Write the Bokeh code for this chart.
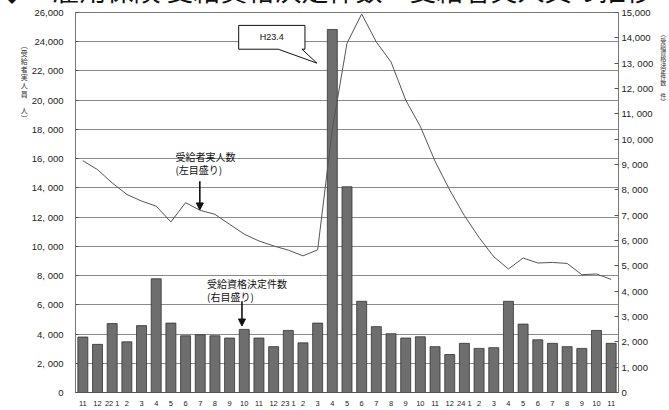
from bokeh.plotting import figure
from bokeh.models import Range1d, LinearAxis, FixedTicker, Label, Arrow, NormalHead
from bokeh.embed import file_html
from bokeh.resources import INLINE

# ---------------- data ----------------
months = ["11", "12", "22 1", "2", "3", "4", "5", "6", "7", "8", "9", "10", "11",
          "12", "23 1", "2", "3", "4", "5", "6", "7", "8", "9", "10", "11",
          "12", "24 1", "2", "3", "4", "5", "6", "7", "8", "9", "10", "11"]

# 受給資格決定件数 (right axis)
kensu = [2190, 1900, 2720, 2000, 2640, 4490, 2740, 2240, 2280, 2240,
         2150, 2490, 2150, 1810, 2450, 1960, 2740, 14330, 8120, 3600,
         2600, 2320, 2150, 2200, 1810, 1500, 1940, 1740, 1770, 3600,
         2700, 2080, 1940, 1810, 1740, 2450, 1940]

# 受給者実人員 (left axis)
jitsu = [15860, 15250, 14340, 13550, 13100, 12750, 11670, 12990, 12460, 12190,
         11510, 10830, 10370, 10030, 9740, 9350, 9760, 18000, 23900, 25900,
         23980, 22620, 20010, 18200, 15820, 13850, 12100, 10600, 9290, 8450,
         9200, 8860, 8900, 8830, 8060, 8110, 7740]

left_ticks = [0, 2000, 4000, 6000, 8000, 10000, 12000, 14000, 16000, 18000,
              20000, 22000, 24000, 26000]
left_tick_labels = ["0", "2, 000", "4, 000", "6, 000", "8, 000", "10, 000",
                    "12, 000", "14, 000", "16, 000", "18, 000", "20, 000",
                    "22, 000", "24,000", "26,000"]
right_ticks = [0, 1000, 2000, 3000, 4000, 5000, 6000, 7000, 8000, 9000,
               10000, 11000, 12000, 13000, 14000, 15000]
right_tick_labels = ["0", "1, 000", "2, 000", "3, 000", "4, 000", "5, 000",
                     "6, 000", "7, 000", "8, 000", "9, 000", "10, 000",
                     "11, 000", "12, 000", "13, 000", "14,000", "15,000"]

title_text = "◆　雇用保険 受給資格決定件数・受給者実人員の推移"
left_title = "︵受給者実人員　人︶"
right_title = "︵受給資格決定件数　件︶"

# ---------------- figure ----------------
cjk = "Noto Sans CJK JP"
x = list(range(1, len(months) + 1))
N = len(months)
W = 669
TOP_EXTRA = 48                 # canvas rows pushed above the page top
ML, MR, MT, MB = 75, 45, 12 + TOP_EXTRA, 15
H = 410 + TOP_EXTRA
YMAX_L = 26000
YMAX_R = 15000

p = figure(width=W, height=H, output_backend="svg", toolbar_location=None,
           x_range=Range1d(0.5, N + 0.5), y_range=Range1d(0, YMAX_L),
           min_border_left=ML, min_border_right=MR,
           min_border_top=MT, min_border_bottom=MB,
           styles={"margin-top": "-%dpx" % TOP_EXTRA})
p.extra_y_ranges = {"right": Range1d(0, YMAX_R)}
p.background_fill_color = "white"
p.border_fill_color = "white"
p.outline_line_color = "#777777"
p.outline_line_width = 1

# title (its top is cut off by the page edge, as in the reference)
p.title.text = title_text
p.title.text_font = cjk
p.title.text_font_size = "27px"
p.title.text_font_style = "normal"
p.title.text_color = "#111111"
p.title.align = "left"
p.title.offset = -ML - 2
p.title.standoff = 7

FW = W - ML - MR
FH = H - MT - MB
PT, PB = 12, 12 + FH           # frame top / bottom in page pixels


def dx(px):  # page x -> data x
    return 0.5 + (px - ML) / FW * N


def dy(py):  # page y -> left data y
    return (PB - py) / FH * YMAX_L


def stacked(s, pad):
    # upright vertical writing: one character per line, blank cells on top
    return "\n".join(["\u3000"] * pad + list(s))


# x axis
p.xaxis.ticker = FixedTicker(ticks=x)
p.xaxis.major_label_overrides = {i: m for i, m in zip(x, months)}
p.xaxis.major_label_text_font = "Liberation Sans"
p.xaxis.major_label_text_font_size = "7.5px"
p.xaxis.major_label_text_color = "#222222"
p.xaxis.major_label_standoff = 6
p.xaxis.major_tick_in = 0
p.xaxis.major_tick_out = 0
p.xaxis.minor_tick_line_color = None
p.xaxis.axis_line_color = "#555555"

# left axis
p.yaxis.ticker = FixedTicker(ticks=left_ticks)
p.yaxis.major_label_overrides = {t: s for t, s in zip(left_ticks, left_tick_labels)}
p.yaxis.major_label_text_font = "Liberation Sans"
p.yaxis.major_label_text_font_size = "9.5px"
p.yaxis.major_label_text_color = "#222222"
p.yaxis.major_label_standoff = 12
p.yaxis.major_tick_in = 3
p.yaxis.major_tick_out = 0
p.yaxis.major_tick_line_color = "#555555"
p.yaxis.minor_tick_line_color = None
p.yaxis.axis_line_color = None
p.yaxis.axis_label = stacked(left_title, 17)
p.yaxis.axis_label_orientation = "horizontal"
p.yaxis.axis_label_align = "end"
p.yaxis.axis_label_standoff = 1
p.yaxis.axis_label_text_font = cjk
p.yaxis.axis_label_text_font_size = "7px"
p.yaxis.axis_label_text_font_style = "normal"
p.yaxis.axis_label_text_line_height = 0.81
p.yaxis.axis_label_text_color = "#333333"

# right axis
ra = LinearAxis(y_range_name="right", ticker=FixedTicker(ticks=right_ticks))
ra.major_label_overrides = {t: s for t, s in zip(right_ticks, right_tick_labels)}
ra.major_label_text_font = "Liberation Sans"
ra.major_label_text_font_size = "9.5px"
ra.major_label_text_color = "#222222"
ra.major_label_standoff = 3
ra.major_tick_in = 4
ra.major_tick_out = 0
ra.major_tick_line_color = "#555555"
ra.minor_tick_line_color = None
ra.axis_line_color = None
ra.axis_label = stacked(right_title, 18)
ra.axis_label_orientation = "horizontal"
ra.axis_label_align = "end"
ra.axis_label_standoff = 4
ra.axis_label_text_font = cjk
ra.axis_label_text_font_size = "6px"
ra.axis_label_text_font_style = "normal"
ra.axis_label_text_line_height = 0.68
ra.axis_label_text_color = "#333333"
p.add_layout(ra, "right")

# grid
p.xgrid.visible = False
p.ygrid.ticker = FixedTicker(ticks=left_ticks)
p.ygrid.grid_line_color = "#8a8a8a"
p.ygrid.grid_line_width = 1

# bars and line
p.vbar(x=x, top=kensu, width=0.68, bottom=0, y_range_name="right",
       fill_color="#6e6e6e", line_color="#333333", line_width=0.8)
p.line(x=x, y=jitsu, line_color="#555555", line_width=1)

# callout H23.4
cx = [dx(240), dx(307), dx(307), dx(304), dx(319), dx(280), dx(240)]
cy = [dy(25), dy(25), dy(49), dy(49), dy(63), dy(49), dy(49)]
p.patch(cx, cy, fill_color="white", line_color="#111111", line_width=1)
p.add_layout(Label(x=dx(273.5), y=dy(37), text="H23.4", text_align="center",
                   text_baseline="middle", text_font="Liberation Sans",
                   text_font_size="9px", text_color="#111111"))

# series notes
p.add_layout(Label(x=dx(176), y=dy(157), text="受給者実人数", text_align="left",
                   text_baseline="middle", text_font=cjk, text_font_size="10px",
                   text_color="#111111"))
p.add_layout(Label(x=dx(176), y=dy(170.5), text="(左目盛り)", text_align="left",
                   text_baseline="middle", text_font=cjk, text_font_size="10px",
                   text_color="#111111"))
p.add_layout(Arrow(end=NormalHead(size=7, fill_color="#111111", line_color="#111111"),
                   x_start=dx(200.7), y_start=dy(182), x_end=dx(200.7), y_end=dy(211),
                   line_color="#111111", line_width=1.6))

p.add_layout(Label(x=dx(208), y=dy(285), text="受給資格決定件数", text_align="left",
                   text_baseline="middle", text_font=cjk, text_font_size="10px",
                   text_color="#111111"))
p.add_layout(Label(x=dx(208), y=dy(298), text="(右目盛り)", text_align="left",
                   text_baseline="middle", text_font=cjk, text_font_size="10px",
                   text_color="#111111"))
p.add_layout(Arrow(end=NormalHead(size=7, fill_color="#111111", line_color="#111111"),
                   x_start=dx(243.3), y_start=dy(303), x_end=dx(243.3), y_end=dy(328),
                   line_color="#111111", line_width=1.6))

open("out.html", "w").write(file_html(p, INLINE))
